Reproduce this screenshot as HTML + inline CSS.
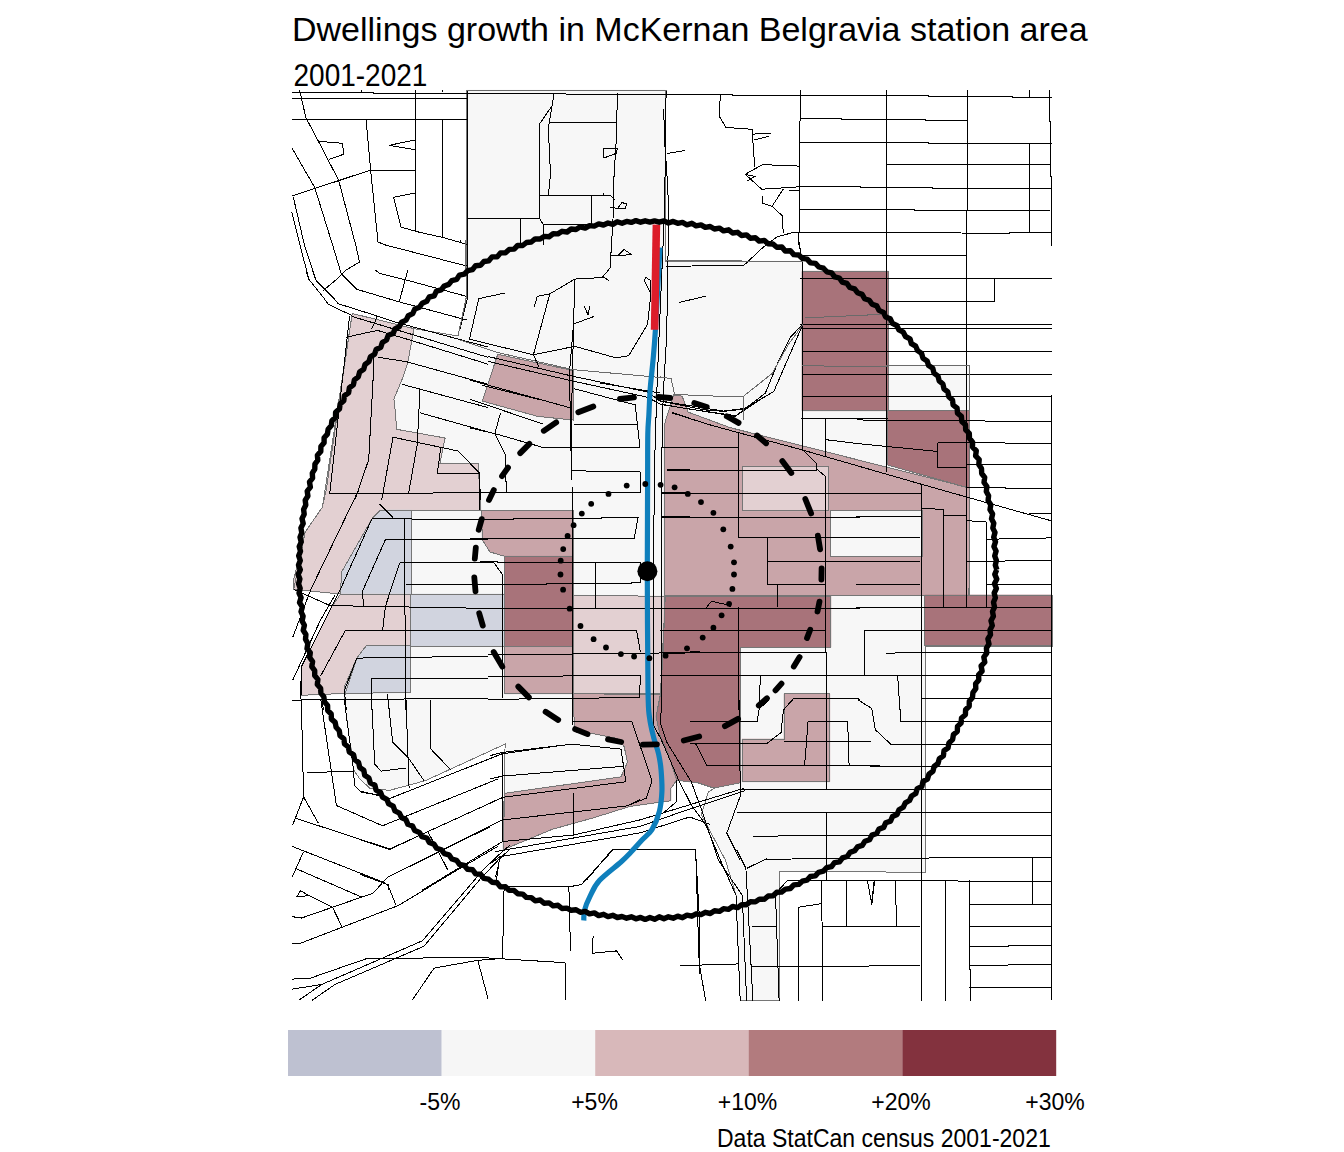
<!DOCTYPE html>
<html><head><meta charset="utf-8">
<style>
html,body{margin:0;padding:0;background:#fff;}
body{width:1344px;height:1152px;position:relative;overflow:hidden;font-family:"Liberation Sans",sans-serif;}
.t{position:absolute;white-space:nowrap;color:#000;line-height:1;}
.lab{position:absolute;white-space:nowrap;color:#000;line-height:1;font-size:23px;top:1091px;transform:translateX(-50%);}
svg{position:absolute;left:0;top:0;}
</style></head><body>
<svg width="1344" height="1152" viewBox="0 0 1344 1152">
<polygon points="466.6,90.0 665.0,90.0 665.0,261.0 802.0,261.0 802.0,271.0 888.0,271.0 888.0,365.3 969.4,365.3 969.4,490.0 969.0,595.0 1052.0,595.0 1052.0,646.0 925.0,646.0 925.0,872.3 779.1,871.2 779.1,1000.6 740.2,1000.6 736.0,895.0 725.4,860.1 701.3,814.6 708.4,792.0 714.0,788.4 697.5,782.7 676.6,780.2 670.9,788.4 670.9,800.7 630.0,806.4 593.1,817.9 552.2,829.3 503.1,849.8 505.1,744.1 425.5,780.6 389.8,790.3 370.4,788.8 360.0,779.1 353.6,770.0 344.3,700.0 345.3,693.4 301.4,695.3 301.4,666.7 331.9,606.5 340.5,594.1 293.7,589.3 305.2,532.0 322.4,507.2 352.2,313.5 413.9,328.6 458.0,336.0 466.6,296.4" fill="#f7f7f7" stroke="#f7f7f7" stroke-width="0.6"/>
<polygon points="352.2,313.5 413.9,328.6 407.8,362.5 402.6,378.1 393.9,399.0 395.6,414.6 396.5,429.3 445.1,438.0 439.9,463.2 478.1,464.0 481.0,510.0 380.6,510.0 372.0,518.7 341.5,572.1 340.5,594.1 293.7,589.3 293.7,579.8 305.2,532.0 322.4,507.2 326.2,490.0" fill="#e3d0d2" stroke="#e3d0d2" stroke-width="0.6"/>
<polygon points="379.7,510.0 411.2,510.0 411.2,594.1 340.5,594.1 341.5,572.1 372.0,518.7" fill="#d1d4df" stroke="#d1d4df" stroke-width="0.6"/>
<polygon points="340.5,594.1 331.9,606.5 301.4,666.7 301.4,695.3 345.3,693.4 356.8,658.1 366.3,645.7 410.3,645.7 410.3,594.1" fill="#e3d0d2" stroke="#e3d0d2" stroke-width="0.6"/>
<polygon points="410.3,594.1 504.8,594.1 504.8,646.0 410.3,646.0 410.3,692.5 344.4,693.4 344.4,686.7 356.8,658.1 366.3,645.7 410.3,645.7" fill="#d1d4df" stroke="#d1d4df" stroke-width="0.6"/>
<polygon points="497.7,354.3 573.1,370.6 573.1,420.0 537.8,416.4 482.4,401.1" fill="#c9a5a9" stroke="#c9a5a9" stroke-width="0.6"/>
<polygon points="481.5,510.9 573.1,510.9 573.1,556.4 505.0,556.4 490.0,552.0 482.3,540.0" fill="#c9a5a9" stroke="#c9a5a9" stroke-width="0.6"/>
<polygon points="504.8,556.4 573.1,556.4 573.1,646.9 504.8,646.9" fill="#a8737a" stroke="#a8737a" stroke-width="0.6"/>
<polygon points="504.8,646.9 573.1,646.9 573.1,693.7 504.8,693.7" fill="#c9a5a9" stroke="#c9a5a9" stroke-width="0.6"/>
<polygon points="573.6,595.3 665.3,596.3 660.5,693.7 573.6,693.7" fill="#e3d0d2" stroke="#e3d0d2" stroke-width="0.6"/>
<polygon points="573.6,693.7 660.5,694.6 656.1,716.4 660.2,736.0 668.4,754.0 676.6,780.2 670.9,788.4 670.9,800.7 630.0,806.4 593.1,817.9 552.2,829.3 503.1,849.8 504.7,793.3 621.0,776.9 627.5,762.2 624.2,746.7 617.7,738.5 588.2,732.7 574.3,731.9" fill="#c9a5a9" stroke="#c9a5a9" stroke-width="0.6"/>
<polygon points="664.4,596.0 664.4,425.0 667.0,416.0 673.8,394.9 682.1,396.1 688.1,412.1 730.0,427.6 969.0,487.9 969.0,595.0" fill="#c9a5a9" stroke="#c9a5a9" stroke-width="0.6"/>
<polygon points="830.6,510.7 922.0,510.7 922.0,556.4 830.6,556.4" fill="#f7f7f7" stroke="#f7f7f7" stroke-width="0.6"/>
<polygon points="742.9,466.4 828.6,466.4 828.6,510.7 742.9,510.7" fill="#e3d0d2" stroke="#e3d0d2" stroke-width="0.6"/>
<polygon points="665.0,596.0 830.8,596.0 830.8,647.3 740.2,647.3 740.2,782.7 714.2,787.9 697.5,782.7 676.6,780.2 668.4,754.0 660.2,736.0 656.1,716.4 660.5,693.7 663.3,650.0" fill="#a8737a" stroke="#a8737a" stroke-width="0.6"/>
<polygon points="924.9,595.0 1052.0,595.0 1052.0,645.5 924.9,645.5" fill="#a8737a" stroke="#a8737a" stroke-width="0.6"/>
<polygon points="784.0,693.8 829.8,693.8 829.8,781.7 742.0,781.7 742.0,739.0 784.0,739.0" fill="#c9a5a9" stroke="#c9a5a9" stroke-width="0.6"/>
<polygon points="802.0,271.3 888.3,271.3 888.3,410.7 802.0,410.7" fill="#a8737a" stroke="#a8737a" stroke-width="0.6"/>
<polygon points="887.7,410.7 969.0,410.7 969.0,488.0 887.7,465.0" fill="#a8737a" stroke="#a8737a" stroke-width="0.6"/>
<polygon points="466.6,90.0 665.0,90.0 665.0,261.0 802.0,261.0 802.0,271.0 888.0,271.0 888.0,365.3 969.4,365.3 969.4,490.0 969.0,595.0 1052.0,595.0 1052.0,646.0 925.0,646.0 925.0,872.3 779.1,871.2 779.1,1000.6 740.2,1000.6 736.0,895.0 725.4,860.1 701.3,814.6 708.4,792.0 714.0,788.4 697.5,782.7 676.6,780.2 670.9,788.4 670.9,800.7 630.0,806.4 593.1,817.9 552.2,829.3 503.1,849.8 505.1,744.1 425.5,780.6 389.8,790.3 370.4,788.8 360.0,779.1 353.6,770.0 344.3,700.0 345.3,693.4 301.4,695.3 301.4,666.7 331.9,606.5 340.5,594.1 293.7,589.3 305.2,532.0 322.4,507.2 352.2,313.5 413.9,328.6 458.0,336.0 466.6,296.4" fill="none" stroke="#767676" stroke-width="1" shape-rendering="crispEdges"/>
<polygon points="352.2,313.5 413.9,328.6 407.8,362.5 402.6,378.1 393.9,399.0 395.6,414.6 396.5,429.3 445.1,438.0 439.9,463.2 478.1,464.0 481.0,510.0 380.6,510.0 372.0,518.7 341.5,572.1 340.5,594.1 293.7,589.3 293.7,579.8 305.2,532.0 322.4,507.2 326.2,490.0" fill="none" stroke="#767676" stroke-width="1" shape-rendering="crispEdges"/>
<polygon points="379.7,510.0 411.2,510.0 411.2,594.1 340.5,594.1 341.5,572.1 372.0,518.7" fill="none" stroke="#767676" stroke-width="1" shape-rendering="crispEdges"/>
<polygon points="340.5,594.1 331.9,606.5 301.4,666.7 301.4,695.3 345.3,693.4 356.8,658.1 366.3,645.7 410.3,645.7 410.3,594.1" fill="none" stroke="#767676" stroke-width="1" shape-rendering="crispEdges"/>
<polygon points="410.3,594.1 504.8,594.1 504.8,646.0 410.3,646.0 410.3,692.5 344.4,693.4 344.4,686.7 356.8,658.1 366.3,645.7 410.3,645.7" fill="none" stroke="#767676" stroke-width="1" shape-rendering="crispEdges"/>
<polygon points="497.7,354.3 573.1,370.6 573.1,420.0 537.8,416.4 482.4,401.1" fill="none" stroke="#767676" stroke-width="1" shape-rendering="crispEdges"/>
<polygon points="481.5,510.9 573.1,510.9 573.1,556.4 505.0,556.4 490.0,552.0 482.3,540.0" fill="none" stroke="#767676" stroke-width="1" shape-rendering="crispEdges"/>
<polygon points="504.8,556.4 573.1,556.4 573.1,646.9 504.8,646.9" fill="none" stroke="#767676" stroke-width="1" shape-rendering="crispEdges"/>
<polygon points="504.8,646.9 573.1,646.9 573.1,693.7 504.8,693.7" fill="none" stroke="#767676" stroke-width="1" shape-rendering="crispEdges"/>
<polygon points="573.6,595.3 665.3,596.3 660.5,693.7 573.6,693.7" fill="none" stroke="#767676" stroke-width="1" shape-rendering="crispEdges"/>
<polygon points="573.6,693.7 660.5,694.6 656.1,716.4 660.2,736.0 668.4,754.0 676.6,780.2 670.9,788.4 670.9,800.7 630.0,806.4 593.1,817.9 552.2,829.3 503.1,849.8 504.7,793.3 621.0,776.9 627.5,762.2 624.2,746.7 617.7,738.5 588.2,732.7 574.3,731.9" fill="none" stroke="#767676" stroke-width="1" shape-rendering="crispEdges"/>
<polygon points="664.4,596.0 664.4,425.0 667.0,416.0 673.8,394.9 682.1,396.1 688.1,412.1 730.0,427.6 969.0,487.9 969.0,595.0" fill="none" stroke="#767676" stroke-width="1" shape-rendering="crispEdges"/>
<polygon points="830.6,510.7 922.0,510.7 922.0,556.4 830.6,556.4" fill="none" stroke="#767676" stroke-width="1" shape-rendering="crispEdges"/>
<polygon points="742.9,466.4 828.6,466.4 828.6,510.7 742.9,510.7" fill="none" stroke="#767676" stroke-width="1" shape-rendering="crispEdges"/>
<polygon points="665.0,596.0 830.8,596.0 830.8,647.3 740.2,647.3 740.2,782.7 714.2,787.9 697.5,782.7 676.6,780.2 668.4,754.0 660.2,736.0 656.1,716.4 660.5,693.7 663.3,650.0" fill="none" stroke="#767676" stroke-width="1" shape-rendering="crispEdges"/>
<polygon points="924.9,595.0 1052.0,595.0 1052.0,645.5 924.9,645.5" fill="none" stroke="#767676" stroke-width="1" shape-rendering="crispEdges"/>
<polygon points="784.0,693.8 829.8,693.8 829.8,781.7 742.0,781.7 742.0,739.0 784.0,739.0" fill="none" stroke="#767676" stroke-width="1" shape-rendering="crispEdges"/>
<polygon points="802.0,271.3 888.3,271.3 888.3,410.7 802.0,410.7" fill="none" stroke="#767676" stroke-width="1" shape-rendering="crispEdges"/>
<polygon points="887.7,410.7 969.0,410.7 969.0,488.0 887.7,465.0" fill="none" stroke="#767676" stroke-width="1" shape-rendering="crispEdges"/>
<g fill="none" stroke="#000" stroke-width="1" stroke-linejoin="miter" shape-rendering="crispEdges">
<polyline points="291.7,92.1 372.8,92.1 373.6,93.5 466.6,93.5"/>
<polyline points="291.7,98.4 466.6,98.4"/>
<polyline points="291.7,119.5 466.6,119.5"/>
<polyline points="299.6,90.2 305.9,117.7 319.3,143.0 338.6,180.2 355.7,245.0"/>
<polyline points="318.5,141.3 342.3,143.3 343.8,154.2 328.9,159.4"/>
<polyline points="291.7,147.5 314.8,187.7 332.6,245.0"/>
<polyline points="292.5,195.9 369.8,170.3 414.5,170.3"/>
<polyline points="366.1,119.5 370.6,169.8 378.0,242.0 385.5,245.0"/>
<polyline points="415.2,90.2 416.0,230.8"/>
<polyline points="414.5,140.1 389.2,145.3 415.2,149.7"/>
<polyline points="416.0,192.9 393.7,197.3 401.1,227.1 416.7,231.6 442.8,237.5 466.6,244.2"/>
<polyline points="442.8,119.5 442.8,237.5"/>
<polyline points="291.7,211.5 299.9,245.0"/>
<polyline points="293.2,196.6 304.4,245.0"/>
<polyline points="467.3,91.0 468.0,245.0"/>
<polyline points="467.3,218.2 539.3,218.2"/>
<polyline points="299.6,90.2 299.6,92.1"/>
<polyline points="361.0,90.2 361.0,92.1"/>
<polyline points="415.2,90.2 415.2,92.1"/>
<polyline points="442.0,90.2 442.0,92.1"/>
<polyline points="467.0,90.2 666.6,90.2"/>
<polyline points="466.6,93.2 565.4,93.2 566.1,94.2 731.9,94.2 732.6,95.4 928.0,95.4 928.0,96.4 1012.0,96.4 1012.0,97.5 1052.0,97.5"/>
<polyline points="554.2,93.2 552.0,105.8 539.3,124.4 539.3,218.2"/>
<polyline points="552.0,105.8 548.3,128.2 550.5,174.3 548.3,195.9"/>
<polyline points="549.8,122.2 616.0,122.2"/>
<polyline points="617.5,93.2 616.0,144.5 613.7,181.7 613.0,218.9 611.5,245.0"/>
<polyline points="539.3,195.9 610.8,195.9 614.5,199.6"/>
<polyline points="603.3,149.0 617.5,148.2 616.0,153.5 604.0,157.9 603.3,149.0"/>
<polyline points="610.0,207.0 617.5,208.5 622.0,202.6 627.1,204.0 625.0,208.5 617.5,208.5"/>
<polyline points="603.3,192.9 603.3,195.9"/>
<polyline points="591.4,195.9 591.4,224.1"/>
<polyline points="539.3,218.2 543.1,224.1 591.4,224.1"/>
<polyline points="520.7,218.2 520.7,245.0"/>
<polyline points="543.1,224.1 543.1,245.0"/>
<polyline points="666.6,153.5 685.2,150.5"/>
<polyline points="720.7,94.2 719.5,105.8 719.3,116.3 725.9,127.4 752.0,129.3 754.7,166.8"/>
<polyline points="752.7,134.1 770.6,133.4"/>
<polyline points="753.5,140.1 769.1,136.3"/>
<polyline points="800.3,90.2 798.9,245.0"/>
<polyline points="799.6,118.5 841.0,118.5 841.0,119.5 888.0,119.5"/>
<polyline points="799.6,142.3 888.0,142.3"/>
<polyline points="762.4,164.6 798.9,166.1"/>
<polyline points="798.1,186.9 860.0,186.9 860.0,187.7 888.0,187.7"/>
<polyline points="799.0,209.3 888.0,209.3"/>
<polyline points="793.7,232.3 888.0,232.3"/>
<polyline points="762.4,164.6 745.3,174.3 761.7,189.2 798.1,186.9"/>
<polyline points="745.3,174.3 755.0,176.5 747.0,181.0"/>
<polyline points="783.2,189.2 772.1,206.3 782.5,216.0 783.2,233.1"/>
<polyline points="762.4,195.9 762.4,203.3 772.1,206.3"/>
<polyline points="769.1,242.7 777.3,236.8 793.7,232.3"/>
<polyline points="789.0,190.7 799.0,190.7"/>
<polyline points="886.2,90.0 886.5,472.0"/>
<polyline points="967.5,90.0 967.5,210.0 966.4,210.0 966.4,605.0"/>
<polyline points="1029.6,90.0 1029.6,97.5"/>
<polyline points="1029.6,143.3 1029.6,232.2"/>
<polyline points="1049.4,90.0 1049.4,121.1 1050.6,121.1 1050.6,176.7 1051.5,176.7 1051.5,246.3"/>
<polyline points="880.0,119.4 925.0,119.4 925.0,120.4 967.5,120.4"/>
<polyline points="880.0,142.4 928.0,142.4 928.0,143.3 1052.0,143.3"/>
<polyline points="886.0,164.4 1050.0,164.4"/>
<polyline points="880.0,187.5 932.0,187.5 932.0,188.5 1052.0,188.5"/>
<polyline points="880.0,209.6 914.0,209.6 914.0,210.4 1050.0,210.4"/>
<polyline points="880.0,232.5 1009.0,233.3 1009.0,232.2 1052.0,232.2"/>
<polyline points="799.0,255.4 966.4,255.4"/>
<polyline points="800.0,278.3 1052.0,278.3"/>
<polyline points="886.0,301.1 994.6,301.1 994.6,278.2"/>
<polyline points="800.0,324.3 1051.5,324.3"/>
<polyline points="802.0,328.2 1051.5,328.2"/>
<polyline points="802.0,351.2 1051.5,351.2"/>
<polyline points="802.0,374.5 1051.5,374.5"/>
<polyline points="802.0,396.8 1051.5,396.8"/>
<polyline points="666.0,266.5 707.9,265.7 743.9,265.3 762.7,247.7 772.1,240.0"/>
<polyline points="798.6,240.0 802.0,260.5 802.9,323.9"/>
<polyline points="678.8,302.5 706.2,296.1"/>
<polyline points="802.9,323.9 790.1,337.6 779.8,358.1 765.3,393.2 735.3,416.3"/>
<polyline points="802.0,326.4 773.8,391.5 743.9,409.4"/>
<polyline points="660.0,400.9 723.3,411.1 743.9,408.6"/>
<polyline points="660.0,404.3 735.3,416.3"/>
<polyline points="801.2,418.8 888.0,418.8"/>
<polyline points="802.0,324.0 802.0,450.0"/>
<polyline points="306.0,270.0 308.4,278.7 323.8,298.0 328.2,304.3 351.9,315.5"/>
<polyline points="312.2,270.0 316.1,280.6 333.5,298.0 338.4,303.8 377.0,315.9 397.3,322.7 461.6,340.0 488.0,347.0"/>
<polyline points="352.2,316.5 488.0,357.3"/>
<polyline points="346.1,337.2 377.4,330.4 409.5,339.9 488.0,364.2"/>
<polyline points="377.0,316.4 374.1,324.2 371.2,329.0"/>
<polyline points="322.9,290.8 337.4,278.7 346.1,270.0"/>
<polyline points="340.3,270.0 341.3,273.9 356.7,289.3 399.3,301.9 415.7,306.3 466.6,320.0"/>
<polyline points="375.1,270.0 379.9,273.4 405.1,279.7 466.6,296.4"/>
<polyline points="408.0,270.0 405.1,279.7 399.3,301.9"/>
<polyline points="299.9,245.0 308.8,278.7"/>
<polyline points="304.4,245.0 316.1,280.6"/>
<polyline points="332.6,245.0 341.3,273.9"/>
<polyline points="355.7,245.0 359.5,262.0 346.1,270.0"/>
<polyline points="385.5,245.0 466.6,266.0"/>
<polyline points="378.3,357.3 406.0,361.6 488.0,384.2"/>
<polyline points="401.7,384.2 488.0,407.6"/>
<polyline points="419.9,390.3 417.3,444.1"/>
<polyline points="419.9,412.8 488.0,431.9"/>
<polyline points="393.0,437.2 458.1,451.0 479.0,471.9 480.7,500.0"/>
<polyline points="440.8,447.6 437.3,473.6 479.0,473.6"/>
<polyline points="329.7,493.6 488.0,492.7"/>
<polyline points="408.7,492.7 417.3,444.1"/>
<polyline points="393.0,437.2 381.7,500.0"/>
<polyline points="349.6,315.6 329.7,493.6"/>
<polyline points="373.9,364.2 368.7,459.7 354.8,500.0"/>
<polyline points="374.0,357.3 373.9,364.2"/>
<polyline points="358.7,490.0 310.9,589.3 292.8,637.1"/>
<polyline points="372.0,518.7 488.0,519.6"/>
<polyline points="379.7,504.3 394.0,518.7"/>
<polyline points="404.5,518.7 405.5,710.0"/>
<polyline points="385.4,539.7 488.0,539.7"/>
<polyline points="385.4,539.7 362.5,591.2 363.5,606.5"/>
<polyline points="399.7,562.6 488.0,562.6"/>
<polyline points="399.7,562.6 385.4,606.5 382.6,630.4"/>
<polyline points="405.5,584.6 488.0,584.6"/>
<polyline points="293.7,589.3 330.0,605.6 488.0,608.4"/>
<polyline points="345.3,630.4 488.0,630.4"/>
<polyline points="345.3,630.4 320.5,676.2"/>
<polyline points="356.8,658.1 488.0,656.2"/>
<polyline points="356.8,658.1 344.4,690.5 346.3,710.0"/>
<polyline points="371.1,678.2 488.0,678.2"/>
<polyline points="371.1,678.2 372.0,710.0"/>
<polyline points="291.8,700.1 488.0,698.2"/>
<polyline points="300.4,681.0 301.4,710.0"/>
<polyline points="322.4,700.0 323.3,710.0"/>
<polyline points="430.3,700.0 430.3,710.0"/>
<polyline points="387.3,694.3 389.2,710.0"/>
<polyline points="372.0,518.7 340.1,590.0 301.4,666.7 301.4,695.0"/>
<polyline points="335.0,595.0 320.5,620.0 292.8,680.0"/>
<polyline points="488.0,356.5 573.1,376.3 647.6,392.0 660.0,401.0"/>
<polyline points="488.0,361.4 573.1,381.1 647.6,397.3 660.0,404.0"/>
<polyline points="470.0,380.1 570.3,407.8"/>
<polyline points="470.0,399.2 542.6,424.0"/>
<polyline points="470.0,427.9 494.8,433.6 544.5,447.9 640.0,447.9 635.2,404.9 574.1,388.7"/>
<polyline points="494.8,433.6 500.6,412.6"/>
<polyline points="494.8,433.6 505.3,454.6 506.3,492.8"/>
<polyline points="470.0,464.1 479.5,473.7 479.5,510.0"/>
<polyline points="574.1,424.0 637.1,424.0"/>
<polyline points="572.2,470.8 640.0,471.8 640.9,492.8"/>
<polyline points="470.0,492.8 640.9,492.8"/>
<polyline points="470.0,519.5 638.0,517.6 634.2,538.6 470.0,538.6"/>
<polyline points="661.0,447.0 690.0,447.0"/>
<polyline points="666.7,469.9 690.0,469.9"/>
<polyline points="661.0,492.8 690.0,492.8"/>
<polyline points="661.0,516.7 690.0,516.7"/>
<polyline points="672.4,412.6 690.0,418.3"/>
<polyline points="666.1,91.0 664.6,210.0 659.3,330.0 656.7,395.0 654.1,480.0 653.5,725.0"/>
<polyline points="663.6,108.8 665.1,149.0 666.6,168.3 668.8,210.0 666.7,335.0 663.2,395.0 661.3,480.0 661.0,725.0"/>
<polyline points="467.3,245.0 467.8,296.3 460.0,329.0"/>
<polyline points="460.0,240.0 460.0,243.0"/>
<polyline points="504.5,293.1 478.8,298.6 469.4,339.2 533.4,354.8 574.8,346.3 616.3,358.0 628.8,355.6 647.5,324.4 650.6,296.3 650.6,280.6 645.9,277.5 644.4,280.6 650.6,293.1"/>
<polyline points="533.4,354.8 549.8,293.9 537.3,296.3 534.2,307.2"/>
<polyline points="549.8,293.9 574.8,279.1 602.2,277.5 610.0,268.1 611.5,245.0"/>
<polyline points="603.0,276.7 609.0,280.6"/>
<polyline points="610.0,255.6 631.9,254.8 624.0,249.4 617.8,255.6"/>
<polyline points="574.8,279.1 573.6,323.4 571.3,425.0 572.0,480.0 572.6,725.0"/>
<polyline points="573.6,323.4 569.7,370.3 570.5,448.4 572.0,455.0"/>
<polyline points="584.2,306.4 588.1,315.0 589.7,306.4"/>
<polyline points="572.5,324.4 593.6,316.6"/>
<polyline points="533.4,354.8 538.9,366.6"/>
<polyline points="481.9,385.3 541.3,400.0"/>
<polyline points="600.0,383.0 660.0,393.0"/>
<polyline points="738.1,432.2 738.1,537.9"/>
<polyline points="662.2,447.1 738.1,447.1"/>
<polyline points="667.4,470.9 817.0,470.9"/>
<polyline points="662.2,493.2 860.0,493.2"/>
<polyline points="662.2,517.0 860.0,517.0"/>
<polyline points="738.1,537.9 860.0,537.9"/>
<polyline points="767.1,537.9 767.1,584.2 825.2,584.2"/>
<polyline points="825.2,476.1 825.2,652.7"/>
<polyline points="826.7,652.7 826.7,710.0"/>
<polyline points="671.9,412.9 712.1,425.5 802.9,450.1 921.5,484.3 1050.9,520.7"/>
<polyline points="802.9,450.1 816.3,463.5 817.0,469.4 825.2,476.1"/>
<polyline points="802.1,395.0 802.9,450.1"/>
<polyline points="802.1,418.8 885.8,418.8"/>
<polyline points="825.2,418.8 825.2,456.0"/>
<polyline points="825.2,439.6 856.0,443.4 937.8,451.5"/>
<polyline points="660.0,401.0 704.6,409.9 724.0,411.4 743.3,409.1 767.9,395.0"/>
<polyline points="660.0,404.0 686.0,408.5 735.9,415.8 764.0,397.0"/>
<polyline points="921.5,484.3 921.5,710.0"/>
<polyline points="966.9,395.0 966.9,606.5"/>
<polyline points="969.1,395.0 969.1,410.0"/>
<polyline points="1051.7,395.0 1051.7,1000.0"/>
<polyline points="856.0,418.8 864.9,420.3 985.5,421.0 1051.7,421.0"/>
<polyline points="937.8,442.6 966.9,442.6 966.9,467.9 937.8,467.9 937.8,442.6"/>
<polyline points="966.9,442.6 1004.8,442.6 1005.6,443.4 1051.7,443.4"/>
<polyline points="966.9,464.9 1051.7,464.9"/>
<polyline points="966.9,487.3 1004.8,487.3 1005.6,488.3 1051.7,488.3"/>
<polyline points="856.0,493.2 921.5,493.2"/>
<polyline points="856.0,517.0 875.3,516.3 921.5,516.3"/>
<polyline points="856.0,537.9 920.0,537.9"/>
<polyline points="921.5,508.1 943.8,509.6 943.8,606.5"/>
<polyline points="943.8,515.5 966.9,515.5"/>
<polyline points="1028.6,513.3 1051.7,513.3"/>
<polyline points="966.9,520.7 986.4,522.0 986.4,606.5"/>
<polyline points="986.4,539.3 1015.2,538.6 1051.7,537.9"/>
<polyline points="856.0,561.2 920.0,561.2"/>
<polyline points="856.0,584.2 920.0,584.2"/>
<polyline points="966.9,561.2 1004.8,561.2 1005.6,560.4 1051.7,560.4"/>
<polyline points="986.7,584.2 1051.7,584.2"/>
<polyline points="856.0,608.0 872.4,607.3 1051.7,607.3"/>
<polyline points="864.2,630.4 1051.7,630.4"/>
<polyline points="864.2,630.4 864.2,675.0"/>
<polyline points="885.8,653.4 902.1,652.7 1051.7,652.7"/>
<polyline points="856.0,675.7 1051.7,675.7"/>
<polyline points="897.7,675.7 899.9,710.0"/>
<polyline points="921.5,698.5 1051.7,698.5"/>
<polyline points="767.1,561.2 860.0,561.2"/>
<polyline points="777.6,585.0 777.6,606.5"/>
<polyline points="660.0,608.0 860.0,608.0"/>
<polyline points="738.1,607.3 738.9,710.0"/>
<polyline points="660.0,630.4 825.2,630.4"/>
<polyline points="663.0,653.4 701.7,652.7 826.7,652.7"/>
<polyline points="660.0,675.7 860.0,675.7"/>
<polyline points="760.4,675.7 759.0,710.0"/>
<polyline points="706.1,608.0 711.3,601.3 725.5,604.3 731.4,607.3"/>
<polyline points="783.5,710.0 793.2,698.8 856.4,698.1 860.0,699.6"/>
<polyline points="480.0,561.9 640.4,562.9 640.4,582.9 480.0,584.8"/>
<polyline points="595.5,561.9 595.5,607.7"/>
<polyline points="488.0,608.7 700.0,608.7"/>
<polyline points="488.0,630.7 636.6,630.7 640.4,651.7"/>
<polyline points="488.0,654.5 640.4,653.6 700.0,651.7"/>
<polyline points="488.0,676.5 640.4,675.5 639.5,697.5 488.0,699.4"/>
<polyline points="502.9,575.3 502.9,697.5"/>
<polyline points="488.0,562.0 493.4,562.0 502.9,575.3"/>
<polyline points="571.7,721.4 631.8,721.4 652.1,781.0 646.3,798.2 627.2,805.9"/>
<polyline points="490.0,755.7 502.3,752.4 571.8,744.2 621.0,749.1 625.9,781.8 502.3,797.4 490.0,803.1"/>
<polyline points="502.3,752.4 502.3,840.8"/>
<polyline points="490.0,779.0 502.3,776.1 623.4,766.3"/>
<polyline points="573.5,793.3 573.5,835.0"/>
<polyline points="664.0,812.5 676.6,801.5 676.6,780.2"/>
<polyline points="586.6,880.0 612.0,849.8 695.5,849.8 699.4,918.1 699.4,974.4"/>
<polyline points="499.8,856.3 496.5,880.0"/>
<polyline points="653.5,725.0 661.4,740.0 678.6,780.0 691.3,805.0 705.6,824.5 720.4,860.1"/>
<polyline points="661.0,725.0 667.0,742.6 691.3,781.8 702.7,813.0 718.3,860.1"/>
<polyline points="301.3,700.0 303.6,796.9 292.7,825.0"/>
<polyline points="303.6,796.9 318.5,823.4"/>
<polyline points="320.8,700.0 336.4,805.5 382.5,825.8 498.0,778.9"/>
<polyline points="344.3,700.0 353.6,770.3 354.4,785.2 361.4,792.2 381.0,795.3"/>
<polyline points="306.8,772.7 353.6,771.1"/>
<polyline points="371.6,700.0 374.7,764.1 381.0,771.1 406.0,768.0"/>
<polyline points="388.0,700.0 392.7,742.2 408.3,757.8 423.9,780.5"/>
<polyline points="406.0,700.0 409.1,788.3"/>
<polyline points="430.2,700.0 430.2,748.4 451.3,770.3"/>
<polyline points="389.8,798.5 502.1,753.8 560.0,745.6"/>
<polyline points="295.0,818.0 389.8,849.0 502.1,797.7"/>
<polyline points="291.9,846.3 383.3,882.2 388.0,885.3 395.8,904.8"/>
<polyline points="303.6,851.7 291.9,877.5"/>
<polyline points="387.5,877.3 502.1,820.0 627.2,805.9 640.0,799.4"/>
<polyline points="427.7,831.2 447.8,869.9"/>
<polyline points="422.5,890.0 502.6,841.5 573.7,835.0 640.0,819.9 690.0,804.7 743.7,788.4"/>
<polyline points="296.6,868.9 361.4,897.0"/>
<polyline points="291.9,916.6 301.3,918.1 373.2,893.1 387.2,877.5 463.0,840.0 490.0,827.0"/>
<polyline points="361.4,840.0 389.6,849.4 409.9,840.0"/>
<polyline points="296.6,897.0 300.5,890.8 309.1,895.5 296.6,897.0"/>
<polyline points="309.1,895.5 332.5,907.2"/>
<polyline points="332.5,907.2 342.7,928.3"/>
<polyline points="291.9,943.1 298.9,943.9 398.2,905.6 459.1,868.9 498.0,846.3"/>
<polyline points="298.9,1000.2 321.6,984.5 422.4,940.8 483.3,869.7 498.0,855.6 510.0,845.0"/>
<polyline points="312.2,1000.2 334.9,984.5 423.9,946.3 480.2,879.1 498.0,860.3 510.0,849.0"/>
<polyline points="291.9,979.1 309.9,978.3 366.1,958.8 480.2,957.2 498.0,958.8"/>
<polyline points="291.9,989.2 321.6,984.5"/>
<polyline points="412.2,1000.2 434.1,968.1 477.8,960.3 498.0,958.8"/>
<polyline points="477.8,960.3 488.0,998.6"/>
<polyline points="500.2,857.2 495.5,877.5"/>
<polyline points="504.1,886.9 568.9,886.9 581.4,884.5 612.7,850.2"/>
<polyline points="504.1,886.9 502.5,958.8"/>
<polyline points="568.9,886.9 570.5,950.9"/>
<polyline points="498.0,958.8 501.7,958.8 565.0,962.7 565.8,1000.2"/>
<polyline points="593.1,936.1 592.3,953.3 616.6,950.9 622.8,960.3"/>
<polyline points="679.8,965.0 699.4,965.0"/>
<polyline points="690.0,721.2 757.2,721.2 759.3,708.5 769.2,700.0"/>
<polyline points="739.5,700.0 740.2,796.2 726.8,833.0 740.2,860.1"/>
<polyline points="690.0,743.8 766.4,743.8 781.2,732.5 782.6,715.6 784.1,709.2 793.3,700.0"/>
<polyline points="695.7,743.8 707.0,765.8 880.0,765.8"/>
<polyline points="784.1,741.0 871.0,741.0"/>
<polyline points="804.6,765.8 808.1,721.2 837.8,721.2 847.7,721.9 849.1,765.8"/>
<polyline points="826.5,700.0 826.5,789.1"/>
<polyline points="739.5,789.1 1051.8,789.1"/>
<polyline points="736.7,812.4 1051.8,812.4"/>
<polyline points="826.5,812.4 826.5,860.0"/>
<polyline points="752.9,836.5 789.0,835.8 1051.8,835.5"/>
<polyline points="766.4,859.1 928.7,858.5 929.4,857.1 1051.8,857.1"/>
<polyline points="858.3,700.0 871.8,708.5 875.3,729.7 891.2,744.6 1051.8,744.6"/>
<polyline points="899.7,700.0 900.4,721.2 1051.8,721.2"/>
<polyline points="921.6,700.0 921.6,1000.6"/>
<polyline points="870.0,766.5 1051.8,766.5"/>
<polyline points="695.7,850.0 697.8,920.7 699.2,963.2 705.6,1000.6"/>
<polyline points="690.0,965.3 719.0,964.6 738.8,963.9"/>
<polyline points="720.4,860.1 736.0,895.3 740.2,1000.6"/>
<polyline points="718.3,860.1 742.3,895.3 746.6,1000.6"/>
<polyline points="736.7,850.0 745.9,868.4 748.0,906.6 752.9,1000.6"/>
<polyline points="746.6,868.4 767.1,858.5"/>
<polyline points="752.2,926.4 775.6,926.4"/>
<polyline points="775.6,896.7 779.1,1000.6"/>
<polyline points="752.2,966.0 868.9,966.0 920.2,965.3"/>
<polyline points="779.1,889.6 787.6,880.4 957.7,880.4 958.4,881.4 1051.8,881.4"/>
<polyline points="826.5,850.0 826.5,880.4"/>
<polyline points="821.5,880.4 823.0,1000.6"/>
<polyline points="798.2,1000.6 798.2,907.3 820.8,903.7"/>
<polyline points="846.3,880.4 846.3,926.4"/>
<polyline points="821.5,926.4 920.2,926.4"/>
<polyline points="867.5,881.1 871.8,904.5 874.6,881.1"/>
<polyline points="1051.8,850.0 1051.8,966.7"/>
<polyline points="895.5,880.4 895.5,904.5 896.2,905.2 896.6,926.4"/>
<polyline points="874.2,880.4 871.4,904.5"/>
<polyline points="945.7,880.4 945.7,1000.6"/>
<polyline points="969.7,880.4 969.7,969.5 970.7,970.2 970.7,1000.6"/>
<polyline points="1032.7,857.8 1032.7,903.7"/>
<polyline points="969.7,904.2 1051.8,904.2"/>
<polyline points="969.7,926.4 1051.8,926.4"/>
<polyline points="969.7,946.6 1007.9,946.6 1008.6,945.5 1051.8,945.5"/>
<polyline points="969.7,965.3 1007.9,965.3 1008.6,964.3 1051.8,964.3"/>
<polyline points="969.0,987.2 1051.8,987.2"/>
<polyline points="360.0,791.0 389.8,798.5"/>
<polyline points="360.0,874.3 388.3,884.8 389.0,890.0"/>
<polyline points="495.0,851.7 640.0,826.4 690.0,808.9 745.2,790.5"/>
<polyline points="490.0,863.7 500.4,856.6 640.0,832.9 689.7,817.0 710.0,824.4"/>
</g>
<g fill="none" stroke="#6a6a6a" stroke-width="1" shape-rendering="crispEdges">
<polyline points="466.6,90.2 666.6,90.2"/>
<polyline points="666.0,260.5 802.0,261.4"/>
<polyline points="804.6,317.9 880.8,314.4"/>
<polyline points="802.0,365.8 888.0,366.6"/>
<polyline points="802.9,324.7 788.4,344.4 772.1,373.5 743.0,396.6 743.9,420.0"/>
<polyline points="660.0,376.9 671.1,378.6 674.5,394.0 696.8,395.7 743.0,396.6"/>
<polyline points="886.0,365.3 969.4,365.3 969.4,410.0"/>
<polyline points="465.5,240.0 466.5,296.3 458.0,336.0"/>
<polyline points="460.0,340.0 497.5,352.5 573.3,369.7 670.0,378.3"/>
</g>
<path d="M660,247.5 C659.2,261.2 656.6,310.8 655.4,330 C654.2,349.2 653.7,352.8 652.8,362.6 C651.9,372.4 650.9,379.9 650.2,388.6 C649.6,397.3 649.3,407.0 648.9,414.6 C648.5,422.2 648.0,423.3 647.8,434.2 C647.6,445.1 647.7,457.2 647.6,480 C647.5,502.8 647.2,536.0 647.3,571 C647.4,606.0 647.6,665.5 648,690 C648.4,714.5 648.6,710.1 649.6,718 C650.6,725.9 652.2,731.6 653.7,737.6 C655.2,743.6 657.4,748.5 658.6,754 C659.8,759.5 660.6,764.1 661.1,770.4 C661.6,776.7 662.2,784.9 661.9,791.7 C661.6,798.5 661.0,805.0 659.4,811.3 C657.8,817.6 655.0,824.5 652.1,829.3 C649.2,834.1 645.6,836.1 642,840 C638.4,843.9 634.1,848.8 630.6,852.5 C627.1,856.2 626.2,857.3 621,862 C615.8,866.7 604.6,874.9 599.4,880.6 C594.2,886.3 592.5,891.3 590,896.3 C587.5,901.2 585.5,906.3 584.5,910.3 C583.5,914.3 583.9,918.8 583.8,920.5" fill="none" stroke="#0f7fbc" stroke-width="5.2" stroke-linejoin="round"/>
<path d="M656.4,224.6 L654.6,329.8" fill="none" stroke="#dc1d2a" stroke-width="7.6"/>
<polyline points="996.7,569.8 994.8,574.4 996.8,579.1 994.5,583.7 996.4,588.5 994.2,593.0 995.4,597.8 993.5,602.3 994.5,607.1 992.5,611.5 993.4,616.3 991.0,620.7 992.3,625.6 990.0,629.9 990.5,634.7 987.9,639.0 989.0,644.0 986.4,648.2 986.8,653.1 983.8,657.1 984.8,662.2 981.1,666.0 982.1,671.1 978.6,674.9 978.8,679.9 975.6,683.7 975.8,688.7 972.9,692.6 972.5,697.4 969.3,701.2 969.2,706.2 965.6,709.7 965.4,714.7 961.5,718.0 961.1,723.0 957.5,726.4 957.3,731.5 953.4,734.7 952.6,739.6 948.9,742.9 948.1,747.8 944.0,750.8 943.4,755.9 939.3,758.8 938.0,763.5 934.1,766.5 932.9,771.3 928.9,774.2 927.5,779.0 923.0,781.4 921.9,786.5 917.2,788.6 915.8,793.5 911.6,796.0 909.5,800.5 905.3,802.9 903.2,807.3 899.0,809.8 897.1,814.4 892.5,816.4 890.6,821.1 885.7,822.7 883.7,827.4 879.0,829.1 876.7,833.5 871.9,835.1 869.6,839.7 864.9,841.3 862.2,845.4 857.5,846.9 854.6,850.8 850.0,852.4 847.2,856.5 842.5,857.9 839.5,861.9 834.5,862.6 831.5,866.6 826.7,867.7 823.4,871.2 818.6,872.3 815.3,875.9 810.3,876.5 807.0,880.2 802.3,881.2 798.7,884.4 793.8,884.9 790.3,888.5 785.4,889.1 781.6,892.0 776.8,892.3 773.1,895.8 768.2,896.0 764.4,899.2 759.4,899.1 755.4,901.9 750.5,901.6 746.5,904.7 741.7,904.6 737.7,907.6 732.6,906.5 728.5,909.4 723.5,908.7 719.4,911.4 714.5,910.8 710.3,913.5 705.3,912.3 701.0,914.6 696.2,913.8 691.8,916.2 687.0,915.1 682.5,917.7 677.7,916.1 673.2,918.2 668.4,916.8 663.9,918.8 659.2,916.8 654.6,919.3 649.9,917.5 645.2,919.4 640.6,917.4 635.9,918.8 631.3,916.8 626.6,918.2 622.0,916.5 617.3,917.5 612.8,915.3 608.0,916.6 603.6,914.3 598.7,915.6 594.4,912.9 589.5,913.9 585.2,911.4 580.3,912.3 576.1,909.8 571.2,910.3 566.9,908.1 562.0,908.5 558.0,905.3 553.1,905.9 549.1,902.9 544.1,903.3 540.2,900.0 535.1,900.8 531.3,897.6 526.4,897.4 522.7,894.1 517.8,893.8 514.1,890.4 509.1,890.4 505.6,886.8 500.4,886.9 497.2,882.8 492.2,882.3 488.6,879.2 483.8,878.4 480.7,874.3 475.6,873.9 472.6,869.7 467.5,869.2 464.3,865.5 459.5,864.4 456.6,860.3 451.9,859.0 449.0,854.9 444.3,853.6 441.3,849.7 436.6,848.2 433.9,844.1 429.3,842.4 426.9,838.0 421.9,836.7 419.4,832.4 414.8,830.6 412.6,826.1 407.9,824.3 405.9,819.7 401.5,817.5 399.4,813.1 394.9,810.9 393.2,806.1 388.7,803.9 386.8,799.3 382.4,797.0 380.6,792.5 376.1,790.1 374.9,785.1 370.3,782.8 368.9,778.0 364.7,775.3 363.8,770.2 359.7,767.4 358.6,762.5 354.6,759.6 353.6,754.7 349.3,751.9 348.3,747.0 344.5,743.9 343.9,738.8 340.0,735.7 339.3,730.8 336.1,727.2 335.2,722.4 331.4,719.1 331.2,714.0 327.7,710.5 327.6,705.5 324.4,701.8 323.9,696.9 320.9,693.1 320.6,688.2 317.3,684.5 317.9,679.4 314.7,675.5 314.7,670.6 311.8,666.6 312.6,661.5 309.7,657.5 310.3,652.6 307.0,648.6 307.8,643.6 305.5,639.3 305.9,634.5 303.2,630.3 304.4,625.3 302.1,621.0 303.1,616.1 301.0,611.7 302.4,606.9 299.5,602.5 301.1,597.7 299.0,593.1 300.2,588.4 298.6,583.8 299.9,579.1 298.1,574.5 300.3,569.8 298.5,565.1 300.3,560.5 298.7,555.8 300.5,551.2 299.2,546.5 301.2,542.0 300.0,537.2 301.8,532.7 300.9,527.9 303.2,523.5 302.0,518.6 304.2,514.2 303.6,509.4 305.8,505.1 305.2,500.2 307.9,496.0 307.2,491.1 310.4,487.1 309.5,482.0 312.6,478.1 312.3,473.1 314.8,469.0 314.9,464.2 317.8,460.2 317.4,455.2 320.8,451.4 320.9,446.5 324.1,442.7 324.1,437.7 327.4,434.1 328.1,429.3 331.3,425.6 331.9,420.7 335.5,417.3 335.6,412.2 339.5,408.9 340.1,404.0 343.8,400.7 344.4,395.7 348.6,392.7 349.4,387.7 353.4,384.8 354.4,379.9 358.3,376.9 359.6,372.1 363.7,369.3 365.0,364.5 368.9,361.6 370.4,356.9 374.6,354.3 376.1,349.5 380.8,347.3 382.3,342.5 386.5,340.0 388.3,335.3 393.2,333.5 395.0,328.8 399.4,326.6 401.6,322.2 406.1,320.1 408.3,315.7 412.7,313.6 414.8,309.0 419.5,307.2 422.2,303.2 426.7,301.3 429.2,297.0 434.2,295.8 436.4,291.2 441.2,289.8 444.2,286.0 448.8,284.4 451.8,280.6 456.7,279.4 459.4,275.1 464.4,274.2 467.7,270.7 472.5,269.7 475.6,265.7 480.6,265.2 483.9,261.5 488.8,260.8 492.0,256.9 497.2,256.9 500.5,252.9 505.5,252.7 509.2,249.4 514.1,249.1 517.6,245.5 522.7,245.5 526.5,242.5 531.3,242.0 535.1,238.9 540.1,239.0 544.1,236.4 549.1,236.7 553.1,233.8 557.9,233.9 562.1,231.3 567.1,232.0 571.1,229.0 576.0,229.5 580.2,226.8 585.2,228.1 589.5,225.6 594.3,226.1 598.7,223.9 603.5,225.0 608.0,223.0 612.8,224.4 617.2,221.7 622.0,223.3 626.6,221.4 631.3,222.4 635.9,220.6 640.6,222.2 645.2,220.8 649.9,222.1 654.5,220.9 659.2,222.2 663.9,220.9 668.4,223.0 673.2,221.4 677.7,223.3 682.5,222.4 686.9,224.8 691.8,223.3 696.1,225.9 701.0,224.9 705.3,227.4 710.2,226.5 714.4,229.0 719.4,228.1 723.6,230.9 728.6,229.8 732.6,233.0 737.6,232.3 741.5,235.5 746.5,234.9 750.4,238.2 755.4,237.8 759.2,241.1 764.4,240.4 768.1,243.8 773.0,244.0 776.8,247.2 781.9,247.0 785.2,251.0 790.4,250.8 793.8,254.6 798.8,255.0 802.3,258.4 807.1,259.2 810.5,262.9 815.5,263.4 818.8,267.0 823.5,268.2 826.8,271.8 831.6,272.8 834.6,276.8 839.4,278.0 842.2,282.1 847.0,283.4 849.8,287.5 854.6,288.8 857.5,292.7 862.1,294.4 864.6,298.7 869.3,300.3 872.1,304.2 876.8,305.9 879.0,310.4 883.5,312.4 885.6,316.9 890.3,318.8 892.4,323.3 896.8,325.5 898.9,329.9 903.3,332.2 905.5,336.5 910.0,338.8 911.4,343.7 915.7,346.2 917.6,350.6 921.6,353.4 923.0,358.2 927.1,360.9 928.6,365.6 932.8,368.3 934.0,373.1 938.0,376.1 939.2,380.9 942.9,384.0 944.0,388.8 947.8,391.9 948.8,396.8 952.5,400.0 953.1,405.0 957.1,408.2 957.5,413.2 961.4,416.4 961.8,421.4 965.5,424.8 965.7,429.8 969.3,433.4 969.5,438.3 972.6,442.1 972.5,447.1 976.3,450.7 975.6,455.9 979.2,459.6 978.8,464.6 981.5,468.6 981.7,473.5 984.7,477.4 984.0,482.5 986.9,486.5 986.3,491.5 988.6,495.7 988.1,500.6 990.8,504.8 990.0,509.7 992.6,514.0 991.5,518.8 993.8,523.2 992.8,528.1 995.0,532.5 993.7,537.3 995.5,541.8 993.9,546.6 996.1,551.1 994.7,555.9 996.4,560.5 995.3,565.2 996.9,569.8" fill="none" stroke="#000" stroke-width="5.4" stroke-linejoin="round"/>
<line x1="620.0" y1="399.0" x2="634.0" y2="397.4" stroke="#000" stroke-width="5.8" stroke-linecap="round"/>
<line x1="578.3" y1="412.3" x2="593.3" y2="406.5" stroke="#000" stroke-width="5.8" stroke-linecap="round"/>
<line x1="543.8" y1="430.8" x2="556.2" y2="422.4" stroke="#000" stroke-width="5.8" stroke-linecap="round"/>
<line x1="520.2" y1="453.1" x2="529.4" y2="443.9" stroke="#000" stroke-width="5.8" stroke-linecap="round"/>
<line x1="502.0" y1="476.2" x2="508.0" y2="467.6" stroke="#000" stroke-width="5.8" stroke-linecap="round"/>
<line x1="489.0" y1="500.0" x2="493.8" y2="490.0" stroke="#000" stroke-width="5.8" stroke-linecap="round"/>
<line x1="478.7" y1="529.7" x2="481.7" y2="519.1" stroke="#000" stroke-width="5.8" stroke-linecap="round"/>
<line x1="474.8" y1="558.7" x2="475.8" y2="547.7" stroke="#000" stroke-width="5.8" stroke-linecap="round"/>
<line x1="475.5" y1="591.3" x2="474.3" y2="577.3" stroke="#000" stroke-width="5.8" stroke-linecap="round"/>
<line x1="482.8" y1="625.6" x2="479.2" y2="613.2" stroke="#000" stroke-width="5.8" stroke-linecap="round"/>
<line x1="502.3" y1="666.6" x2="493.7" y2="652.0" stroke="#000" stroke-width="5.8" stroke-linecap="round"/>
<line x1="528.9" y1="697.4" x2="518.3" y2="686.6" stroke="#000" stroke-width="5.8" stroke-linecap="round"/>
<line x1="558.2" y1="720.0" x2="545.6" y2="711.8" stroke="#000" stroke-width="5.8" stroke-linecap="round"/>
<line x1="587.5" y1="734.1" x2="575.1" y2="729.1" stroke="#000" stroke-width="5.8" stroke-linecap="round"/>
<line x1="621.2" y1="742.0" x2="608.0" y2="739.4" stroke="#000" stroke-width="5.8" stroke-linecap="round"/>
<line x1="656.9" y1="744.4" x2="642.9" y2="744.6" stroke="#000" stroke-width="5.8" stroke-linecap="round"/>
<line x1="699.2" y1="736.5" x2="683.8" y2="740.5" stroke="#000" stroke-width="5.8" stroke-linecap="round"/>
<line x1="738.1" y1="718.9" x2="724.9" y2="726.1" stroke="#000" stroke-width="5.8" stroke-linecap="round"/>
<line x1="767.0" y1="698.3" x2="758.8" y2="705.5" stroke="#000" stroke-width="5.8" stroke-linecap="round"/>
<line x1="781.5" y1="683.6" x2="775.5" y2="690.4" stroke="#000" stroke-width="5.8" stroke-linecap="round"/>
<line x1="799.6" y1="657.1" x2="793.8" y2="666.5" stroke="#000" stroke-width="5.8" stroke-linecap="round"/>
<line x1="810.2" y1="629.7" x2="807.0" y2="638.1" stroke="#000" stroke-width="5.8" stroke-linecap="round"/>
<line x1="819.5" y1="601.7" x2="817.5" y2="611.5" stroke="#000" stroke-width="5.8" stroke-linecap="round"/>
<line x1="821.6" y1="568.5" x2="821.4" y2="579.5" stroke="#000" stroke-width="5.8" stroke-linecap="round"/>
<line x1="817.9" y1="535.7" x2="820.1" y2="549.3" stroke="#000" stroke-width="5.8" stroke-linecap="round"/>
<line x1="805.3" y1="499.0" x2="811.1" y2="513.4" stroke="#000" stroke-width="5.8" stroke-linecap="round"/>
<line x1="782.3" y1="461.0" x2="791.3" y2="473.0" stroke="#000" stroke-width="5.8" stroke-linecap="round"/>
<line x1="757.1" y1="435.5" x2="766.1" y2="443.3" stroke="#000" stroke-width="5.8" stroke-linecap="round"/>
<line x1="726.8" y1="416.3" x2="738.6" y2="422.9" stroke="#000" stroke-width="5.8" stroke-linecap="round"/>
<line x1="694.3" y1="403.1" x2="706.7" y2="407.1" stroke="#000" stroke-width="5.8" stroke-linecap="round"/>
<line x1="658.2" y1="396.8" x2="670.2" y2="398.0" stroke="#000" stroke-width="5.8" stroke-linecap="round"/>
<circle cx="645.3" cy="484" r="2.9" fill="#000"/>
<circle cx="660.6" cy="484.8" r="2.9" fill="#000"/>
<circle cx="674.6" cy="487.3" r="2.9" fill="#000"/>
<circle cx="687.8" cy="493.9" r="2.9" fill="#000"/>
<circle cx="701" cy="502.1" r="2.9" fill="#000"/>
<circle cx="713.4" cy="512.8" r="2.9" fill="#000"/>
<circle cx="723.3" cy="529.3" r="2.9" fill="#000"/>
<circle cx="730.7" cy="546.6" r="2.9" fill="#000"/>
<circle cx="734" cy="562.3" r="2.9" fill="#000"/>
<circle cx="734" cy="574.5" r="2.9" fill="#000"/>
<circle cx="732.4" cy="588.9" r="2.9" fill="#000"/>
<circle cx="729.1" cy="603.8" r="2.9" fill="#000"/>
<circle cx="721.6" cy="615.3" r="2.9" fill="#000"/>
<circle cx="713.4" cy="627.7" r="2.9" fill="#000"/>
<circle cx="702.7" cy="637.6" r="2.9" fill="#000"/>
<circle cx="687" cy="648.3" r="2.9" fill="#000"/>
<circle cx="665.6" cy="655.7" r="2.9" fill="#000"/>
<circle cx="649.4" cy="658.2" r="2.9" fill="#000"/>
<circle cx="634.1" cy="656.5" r="2.9" fill="#000"/>
<circle cx="620.9" cy="654.1" r="2.9" fill="#000"/>
<circle cx="606" cy="647.5" r="2.9" fill="#000"/>
<circle cx="593.6" cy="639.2" r="2.9" fill="#000"/>
<circle cx="580.5" cy="626" r="2.9" fill="#000"/>
<circle cx="569.7" cy="608.7" r="2.9" fill="#000"/>
<circle cx="563.1" cy="589.7" r="2.9" fill="#000"/>
<circle cx="560.5" cy="574.5" r="2.9" fill="#000"/>
<circle cx="560.7" cy="560.7" r="2.9" fill="#000"/>
<circle cx="563.2" cy="549.1" r="2.9" fill="#000"/>
<circle cx="567.6" cy="535.9" r="2.9" fill="#000"/>
<circle cx="573.6" cy="525.2" r="2.9" fill="#000"/>
<circle cx="581.8" cy="513.6" r="2.9" fill="#000"/>
<circle cx="591.2" cy="503.8" r="2.9" fill="#000"/>
<circle cx="608.5" cy="493.9" r="2.9" fill="#000"/>
<circle cx="626.7" cy="485.6" r="2.9" fill="#000"/>
<circle cx="647.4" cy="571.3" r="10" fill="#000"/>
<rect x="288.0" y="1030" width="153.8" height="46" fill="#bec1d1"/>
<rect x="441.6" y="1030" width="153.8" height="46" fill="#f6f6f6"/>
<rect x="595.2" y="1030" width="153.8" height="46" fill="#d8b8ba"/>
<rect x="748.8" y="1030" width="153.8" height="46" fill="#b27b7e"/>
<rect x="902.4" y="1030" width="153.8" height="46" fill="#83323e"/>
</svg>
<div class="t" style="left:292px;top:11.5px;font-size:34px;">Dwellings growth in McKernan Belgravia station area</div>
<div class="t" style="left:293.5px;top:60px;font-size:28px;transform-origin:0 0;transform:scaleY(1.12);">2001-2021</div>
<div class="lab" style="left:440px">-5%</div>
<div class="lab" style="left:594.5px">+5%</div>
<div class="lab" style="left:747.5px">+10%</div>
<div class="lab" style="left:901px">+20%</div>
<div class="lab" style="left:1055px">+30%</div>
<div class="t" style="left:717px;top:1126px;font-size:23px;transform-origin:0 0;transform:scaleY(1.12);">Data StatCan census 2001-2021</div>
</body></html>
